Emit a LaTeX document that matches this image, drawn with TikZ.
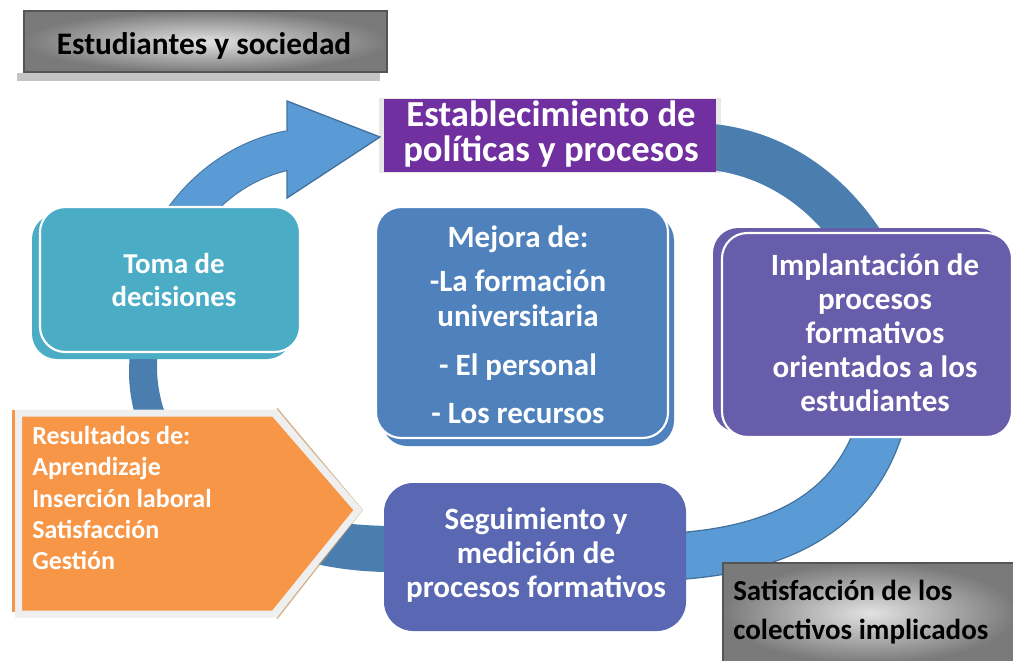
\documentclass[tikz,border=0pt]{standalone}
\usepackage{fontspec}
\setmainfont{Carlito}
\usetikzlibrary{shadows}
\definecolor{cTeal}{HTML}{4BACC6}
\definecolor{cMejora}{HTML}{4F81BD}
\definecolor{cImpl}{HTML}{675DAA}
\definecolor{cSeg}{HTML}{5A67B2}
\definecolor{cPurple}{HTML}{7030A0}
\definecolor{cOrange}{HTML}{F79646}
\definecolor{cOrBorder}{HTML}{EFEFEF}
\definecolor{cOrShadow}{HTML}{C49A6C}
\definecolor{cRingDark}{HTML}{4A7EAE}
\definecolor{cRingLight}{HTML}{5B9BD5}
\definecolor{cRingEdge}{HTML}{41719C}
\definecolor{cGrayIn}{HTML}{E2E2E2}
\definecolor{cGrayOut}{HTML}{7A7A7A}
\definecolor{cGrayLine}{HTML}{555555}
\definecolor{cBar}{HTML}{C4C4C4}
\newcommand\myfs[2]{\fontsize{#1}{#2}\selectfont\bfseries}
\begin{document}
\begin{tikzpicture}[x=0.75pt,y=-0.75pt,
  ringdark/.style={line width=34.5pt, draw=cRingDark},
  ringedge/.style={line width=36pt, draw=cRingEdge},
  ringlight/.style={line width=34pt, draw=cRingLight},
  rbox/.style={rounded corners=19pt, inner sep=0pt, text=white, align=center},
  frontbox/.style={rbox, draw=white, line width=1.6pt},
  graybox/.style={shading=radial, inner color=cGrayIn, outer color=cGrayOut, draw=cGrayLine, line width=1.2pt, inner sep=0pt},
  wtext/.style={text=white, align=center, inner sep=0pt}
]
\useasboundingbox (0,0) rectangle (1013,660);

% ---- ring ----
\draw[ringdark] (700,146) .. controls (780,150) and (845,200) .. (882,280);
\draw[ringedge] (890,300) .. controls (905,470) and (830,545) .. (680,556);
\draw[ringlight] (890,300) .. controls (905,470) and (830,545) .. (680,556);
\fill[cRingDark] (400,572) .. controls (240,575) and (128,480) .. (129,370) -- (131,320)
  -- (157,320) -- (157,370) .. controls (160,465) and (250,527) .. (400,526) -- cycle;
\draw[line width=30pt, draw=cRingEdge] (145,330) .. controls (150,240) and (210,165) .. (290,150);
\draw[line width=28.5pt, draw=cRingLight] (145,330) .. controls (150,240) and (210,165) .. (290,150);
\fill[cRingLight] (287,101) -- (380,137) -- (287,198) -- cycle;
\draw[cRingEdge, line width=1pt, line join=miter] (287,132) -- (287,101) -- (380,137) -- (287,198) -- (287,170);

% ---- top-left label ----
\fill[cBar] (17,73) rectangle (380,81);
\node[graybox, minimum width=272.25pt, minimum height=45.75pt] (estud) at (205.5,41.5) {};
\node[inner sep=0pt, font={\myfs{23.5pt}{27pt}}] (estudtext) at (204,45.5) {Estudiantes y sociedad};

% ---- title ----
\node[fill=cPurple, inner sep=0pt, minimum width=249pt, minimum height=54.75pt,
  drop shadow={shadow xshift=0pt, shadow yshift=0pt, shadow scale=1.03, opacity=0.18, fill=gray}]
  (estab) at (550,135.5) {};
\node[wtext, font={\myfs{27.5pt}{26.25pt}}] (estabtext) at (551,134) {Establecimiento de\\pol\'iticas y procesos};

% ---- Toma de decisiones ----
\node[rbox, fill=cTeal, minimum width=195pt, minimum height=108.75pt] (tomaback) at (162,286.5) {};
\node[frontbox, fill=cTeal, minimum width=195pt, minimum height=108.75pt] (toma) at (170,279.5) {};
\node[wtext, font={\myfs{21.6pt}{24.75pt}}] (tomatext) at (174,280) {Toma de\\decisiones};

% ---- Mejora ----
\node[rbox, fill=cMejora, minimum width=219pt, minimum height=173.25pt] (mejoraback) at (528,330.5) {};
\node[frontbox, fill=cMejora, minimum width=219pt, minimum height=173.25pt] (mejora) at (522,322.5) {};
\node[wtext, font={\myfs{23.25pt}{26.25pt}}] (mejoratext) at (518,324.5) {Mejora de:\\[6.75pt]
  -La formaci\'on\\universitaria\hspace*{10.5pt}\\[10.5pt]
  - El personal\\[9.75pt]- Los recursos};

% ---- Implantacion ----
\node[rbox, fill=cImpl, minimum width=217.5pt, minimum height=153pt] (implback) at (858,330) {};
\node[frontbox, fill=cImpl, minimum width=217.5pt, minimum height=153pt] (impl) at (867,335) {};
\node[wtext, font={\myfs{23.25pt}{25.5pt}}] (impltext) at (875,333) {Implantaci\'on de\\procesos\\formativos\\orientados a los\\estudiantes};

% ---- Seguimiento ----
\node[rbox, fill=cSeg, rounded corners=22pt, minimum width=226.5pt, minimum height=111pt] (seg) at (535,557) {};
\node[wtext, font={\myfs{23.25pt}{25.5pt}}] (segtext) at (536,555) {Seguimiento y\\medici\'on de\\procesos formativos};

% ---- Resultados (orange pentagon) ----
\fill[cOrange] (12,410) rectangle (22,612);
\draw[cOrShadow, line width=1.2pt, opacity=0.7] (277,408.5) -- (362,510) -- (277,618.5);
\draw[fill=cOrange, draw=cOrBorder, line width=5.25pt, line join=miter]
  (18.5,413) -- (274,413) -- (358,510) -- (274,614) -- (18.5,614) -- cycle;
\node[text=white, align=left, inner sep=0pt, anchor=west, font={\myfs{19.5pt}{23.5pt}}] (resultados) at (32,498)
  {Resultados de:\\Aprendizaje\\Inserci\'on laboral\\Satisfacci\'on\\Gesti\'on};

% ---- bottom-right label ----
\node[graybox, minimum width=219.75pt, minimum height=75pt] (satis) at (869.5,613) {};
\node[align=left, inner sep=0pt, anchor=west, font={\myfs{21.75pt}{29.25pt}}] (satistext) at (733,612.5)
  {Satisfacci\'on de los\\colectivos implicados};
\end{tikzpicture}
\end{document}
